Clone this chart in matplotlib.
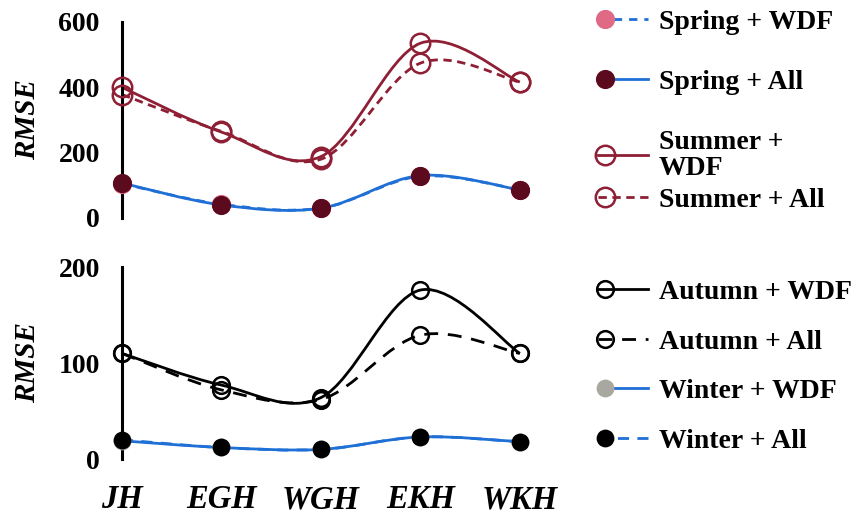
import matplotlib.pyplot as plt
import numpy as np
from matplotlib.path import Path
from matplotlib.patches import PathPatch
from matplotlib.lines import Line2D
from matplotlib.legend_handler import HandlerLine2DCompound

plt.rcParams["font.family"] = ["Liberation Serif", "DejaVu Serif"]
plt.rcParams["font.weight"] = "bold"

sites = ["JH", "EGH", "WGH", "EKH", "WKH"]

spring_wdf = [105, 42, 30, 128, 87]
spring_all = [107, 40, 30, 130, 86]
summer_wdf = [400, 263, 188, 535, 416]
summer_all = [378, 265, 180, 474, 416]

autumn_wdf = [110, 77, 64, 176, 110]
autumn_all = [110, 72, 62, 129, 110]
winter_wdf = [19, 12, 10, 23, 18]
winter_all = [20, 12, 10, 23, 18]

top_ticks = [0, 200, 400, 600]
bottom_ticks = [0, 100, 200]

BLUE = "#1F70D6"
MAROON = "#8E1F35"
DARK_MAROON = "#5C0A1E"
PINK = "#E06A85"
GREY = "#A8A8A0"


def smooth_path(x, y):
    # cubic bezier through every point, like a spreadsheet "smoothed line"
    pts = np.column_stack([x, y]).astype(float)
    n = len(pts)
    verts = [pts[0]]
    codes = [Path.MOVETO]
    for i in range(n - 1):
        p0 = pts[max(i - 1, 0)]
        p1 = pts[i]
        p2 = pts[i + 1]
        p3 = pts[min(i + 2, n - 1)]
        verts += [p1 + (p2 - p0) / 6, p2 - (p3 - p1) / 6, p2]
        codes += [Path.CURVE4] * 3
    return Path(verts, codes)


def draw_series(ax, values, color, ls, mfc, mec, ms, mew=1.8, lw=2.0):
    x = np.arange(len(values))
    ax.add_patch(PathPatch(smooth_path(x, values), fill=False, edgecolor=color,
                           linestyle=ls, lw=lw, clip_on=False, zorder=2))
    ax.plot(x, values, ls="none", marker="o", ms=ms, mfc=mfc, mec=mec,
            mew=mew, clip_on=False, zorder=3)
    return Line2D([], [], color=color, linestyle=ls, lw=lw, marker="o", ms=ms,
                  mfc=mfc, mec=mec, mew=mew)


class MarkerLeft(HandlerLine2DCompound):
    # legend marker sits at the start of the line sample
    def get_xdata(self, legend, xdescent, ydescent, width, height, fontsize):
        return [-xdescent, -xdescent + width], [-xdescent + 0.14 * width]


def style_axis(ax, ymax, ticks):
    ax.set_xlim(0, 4.3)
    ax.set_ylim(0, ymax)
    for side in ["top", "right", "bottom"]:
        ax.spines[side].set_visible(False)
    ax.spines["left"].set_linewidth(2.2)
    ax.set_yticks(ticks)
    ax.tick_params(axis="both", length=0)
    ax.tick_params(axis="y", pad=16, labelsize=20)
    ax.set_ylabel("RMSE", fontsize=21, style="italic", fontweight="bold")
    ax.yaxis.set_label_coords(-0.19, 0.5)


fig = plt.figure(figsize=(8.64, 5.15), dpi=100)
ax_top = fig.add_axes([0.1412, 0.5767, 0.495, 0.3806])
ax_bot = fig.add_axes([0.1412, 0.1087, 0.495, 0.3728])

style_axis(ax_top, 600, top_ticks)
style_axis(ax_bot, 200, bottom_ticks)

ax_top.set_xticks([])
ax_bot.set_xticks(range(len(sites)))
ax_bot.set_xticklabels(sites, fontsize=23.5, style="italic", fontweight="bold")
ax_bot.tick_params(axis="x", pad=18)

h_spring_wdf = draw_series(ax_top, spring_wdf, BLUE, (0, (3, 2.5)), PINK, PINK, 12)
h_spring_all = draw_series(ax_top, spring_all, BLUE, "-", DARK_MAROON, DARK_MAROON, 12)
h_summer_wdf = draw_series(ax_top, summer_wdf, MAROON, "-", "none", MAROON, 14)
h_summer_all = draw_series(ax_top, summer_all, MAROON, (0, (3, 2)), "none", MAROON, 14)

h_autumn_wdf = draw_series(ax_bot, autumn_wdf, "black", "-", "none", "black", 12)
h_autumn_all = draw_series(ax_bot, autumn_all, "black", (0, (5, 3.5)), "none", "black", 12)
h_winter_wdf = draw_series(ax_bot, winter_wdf, BLUE, "-", GREY, GREY, 11)
h_winter_all = draw_series(ax_bot, winter_all, BLUE, (0, (4, 3)), "black", "black", 11)

legend_kw = dict(frameon=False, fontsize=20, handlelength=1.8, handletextpad=0.4,
                 borderpad=0, borderaxespad=0, handler_map={Line2D: MarkerLeft()})

leg1 = fig.legend([h_spring_wdf, h_spring_all, h_summer_wdf],
                  ["Spring + WDF", "Spring + All", "Summer +\nWDF"],
                  loc="upper left", bbox_to_anchor=(598 / 864, 0.982),
                  labelspacing=1.25, **legend_kw)
leg1.get_texts()[2].set_linespacing(1.05)
leg2 = fig.legend([h_summer_all], ["Summer + All"],
                  loc="center left", bbox_to_anchor=(598 / 864, 0.6117), **legend_kw)
leg3 = fig.legend([h_autumn_wdf, h_autumn_all, h_winter_wdf, h_winter_all],
                  ["Autumn + WDF", "Autumn + All", "Winter + WDF", "Winter + All"],
                  loc="center left", bbox_to_anchor=(598 / 864, 0.288),
                  labelspacing=0.87, **legend_kw)

fig.savefig("out.png", dpi=100)
